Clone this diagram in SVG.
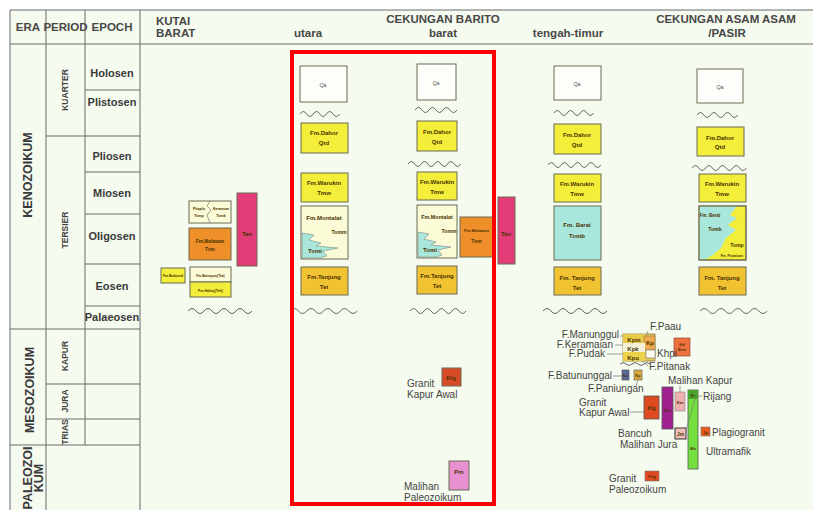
<svg xmlns="http://www.w3.org/2000/svg" width="813" height="510" viewBox="0 0 813 510">
<style>
.ln{stroke:#6a6a6a;stroke-width:1;fill:none}
.hd{font-family:"Liberation Sans",Arial,sans-serif;font-weight:bold;font-size:11.5px;fill:#474747}
.ep{font-family:"Liberation Sans",Arial,sans-serif;font-weight:bold;font-size:11px;fill:#3a3a3a;text-anchor:middle}
.pr{font-family:"Liberation Sans",Arial,sans-serif;font-weight:bold;font-size:8.5px;fill:#444;text-anchor:middle}
.er{font-family:"Liberation Sans",Arial,sans-serif;font-weight:bold;font-size:12.5px;fill:#3a3a3a;text-anchor:middle}
.bx{stroke:#6b6b55;stroke-width:1}
.t{font-family:"Liberation Sans",Arial,sans-serif;font-weight:bold;font-size:6px;fill:#4a3300;text-anchor:middle}
.q{font-family:"Liberation Sans",Arial,sans-serif;font-size:6px;fill:#555;text-anchor:middle}
.lb{font-family:"Liberation Sans",Arial,sans-serif;font-size:10px;fill:#444}
.wv{stroke:#666;stroke-width:1;fill:none}
.y{fill:#f3ee3a}
.o{fill:#f1c232}
.c{fill:#fbfbd8}
.cy{fill:#a9e6dc}
.or{fill:#ee8f2a}
.pk{fill:#e23d78}
.w{fill:#fdfdfa}
.ll{stroke:#777;stroke-width:0.7;fill:none}
</style>
<rect x="0" y="0" width="813" height="510" fill="#ffffff"/>
<rect x="10" y="10" width="803" height="500" fill="#f6fbef"/>

<g id="table">
  <line class="ln" x1="10" y1="10" x2="813" y2="10"/>
  <line class="ln" x1="10" y1="44" x2="813" y2="44"/>
  <line class="ln" x1="10" y1="10" x2="10" y2="510"/>
  <line class="ln" x1="46" y1="10" x2="46" y2="510"/>
  <line class="ln" x1="85" y1="10" x2="85" y2="445"/>
  <line class="ln" x1="140" y1="10" x2="140" y2="510"/>
  <line class="ln" x1="85" y1="90" x2="140" y2="90"/>
  <line class="ln" x1="46" y1="136" x2="140" y2="136"/>
  <line class="ln" x1="85" y1="172" x2="140" y2="172"/>
  <line class="ln" x1="85" y1="214" x2="140" y2="214"/>
  <line class="ln" x1="85" y1="264" x2="140" y2="264"/>
  <line class="ln" x1="85" y1="306" x2="140" y2="306"/>
  <line class="ln" x1="10" y1="329" x2="140" y2="329"/>
  <line class="ln" x1="46" y1="384" x2="140" y2="384"/>
  <line class="ln" x1="46" y1="419" x2="140" y2="419"/>
  <line class="ln" x1="10" y1="445" x2="140" y2="445"/>

  <text class="hd" x="28" y="31" text-anchor="middle" font-size="10">ERA</text>
  <text class="hd" x="65.5" y="31" text-anchor="middle" font-size="8">PERIOD</text>
  <text class="hd" x="112" y="31" text-anchor="middle" font-size="10">EPOCH</text>
  <text class="hd" x="156" y="25">KUTAI</text>
  <text class="hd" x="156" y="37">BARAT</text>
  <text class="hd" x="308" y="37" text-anchor="middle" font-size="11">utara</text>
  <text class="hd" x="443" y="23" text-anchor="middle">CEKUNGAN BARITO</text>
  <text class="hd" x="443" y="37" text-anchor="middle" font-size="11">barat</text>
  <text class="hd" x="568" y="37" text-anchor="middle" font-size="11">tengah-timur</text>
  <text class="hd" x="726" y="23" text-anchor="middle">CEKUNGAN ASAM ASAM</text>
  <text class="hd" x="727" y="37" text-anchor="middle">/PASIR</text>

  <text class="ep" x="112" y="77">Holosen</text>
  <text class="ep" x="112" y="106">Plistosen</text>
  <text class="ep" x="112" y="160">Pliosen</text>
  <text class="ep" x="112" y="197">Miosen</text>
  <text class="ep" x="112" y="240">Oligosen</text>
  <text class="ep" x="112" y="290">Eosen</text>
  <text class="ep" x="112" y="321" font-size="8.5">Palaeosen</text>

  <text class="pr" transform="translate(68,90) rotate(-90)">KUARTER</text>
  <text class="pr" transform="translate(68,230) rotate(-90)">TERSIER</text>
  <text class="pr" transform="translate(68,356) rotate(-90)" font-size="7">KAPUR</text>
  <text class="pr" transform="translate(68,401) rotate(-90)" font-size="7">JURA</text>
  <text class="pr" transform="translate(68,432) rotate(-90)" font-size="6.5">TRIAS</text>

  <text class="er" transform="translate(32,175) rotate(-90)">KENOZOIKUM</text>
  <text class="er" transform="translate(34,390) rotate(-90)" font-size="12">MESOZOIKUM</text>
  <text class="er" transform="translate(32,478) rotate(-90)" font-size="10.5">PALEOZOI</text>
  <text class="er" transform="translate(43,478) rotate(-90)" font-size="10.5">KUM</text>
</g>

<g id="kutai-barat">
  <rect class="bx c" x="189" y="201" width="42" height="22"/>
  <path class="ll" d="M210 201 l-3 5 l4 4 l-4 5 l3 8"/>
  <text class="t" transform="translate(199,210) scale(0.6)">Pitapfu</text>
  <text class="t" transform="translate(199,217) scale(0.6)">Tomp</text>
  <text class="t" transform="translate(221,210) scale(0.55)">Karamuan</text>
  <text class="t" transform="translate(221,217) scale(0.6)">Tomk</text>
  <rect class="bx or" x="189" y="228" width="42" height="32"/>
  <text class="t" transform="translate(210,243) scale(0.8)">Fm.Malawan</text>
  <text class="t" transform="translate(210,251) scale(0.8)">Tom</text>
  <rect class="bx pk" x="237" y="193" width="20" height="73"/>
  <text class="t" x="247" y="236" fill="#5a1030">Tan</text>
  <rect class="bx y" x="161" y="268" width="24" height="15"/>
  <text class="t" transform="translate(173,277) scale(0.55)">Fm.Bedoned</text>
  <rect class="bx c" x="190" y="267" width="41" height="15"/>
  <text class="t" transform="translate(210.5,276.5) scale(0.55)">Fm.Batuayau(Tea)</text>
  <rect class="bx y" x="190" y="282" width="41" height="15"/>
  <text class="t" transform="translate(210.5,291.5) scale(0.6)">Fm.Haloq(Teh)</text>
  <path class="wv" d="M188 311 q4 -5 8 0 t8 0 t8 0 t8 0 t8 0 t8 0 t8 0 t8 0"/>
</g>

<g id="barito-utara">
  <rect class="bx w" x="300" y="66" width="47" height="36"/>
  <text class="q" transform="translate(323,87) scale(0.9)">Qa</text>
  <path class="wv" d="M300 114 q3.3 -5 6.6 0 t6.6 0 t6.6 0 t6.6 0 t6.6 0 t6.6 0"/>
  <rect class="bx y" x="301" y="123" width="47" height="30"/>
  <text class="t" x="324" y="135">Fm.Dahor</text>
  <text class="t" x="324" y="145">Qtd</text>
  <rect class="bx y" x="301" y="173" width="47" height="29"/>
  <text class="t" x="324" y="185">Fm.Warukin</text>
  <text class="t" x="324" y="195">Tmw</text>
  <rect class="bx c" x="301" y="206" width="47" height="53"/>
  <polygon class="cy" points="302,233 314,235 309,240 321,243 316,246 338,248 323,251 327,256 320,258 302,258" stroke="#7a8a80" stroke-width="0.6"/>
  <text class="t" x="324" y="220" font-size="6.5">Fm.Montalat</text>
  <text class="t" transform="translate(339,234) scale(0.85)">Tomm</text>
  <text class="t" x="315" y="253" font-size="9" fill="#2c3a50">Tomi</text>
  <rect class="bx o" x="301" y="267" width="47" height="28"/>
  <text class="t" x="324" y="279">Fm.Tanjung</text>
  <text class="t" x="324" y="289">Tet</text>
  <path class="wv" d="M290 311 q4.2 -5 8.4 0 t8.4 0 t8.4 0 t8.4 0 t8.4 0 t8.4 0 t8.4 0 t8.4 0"/>
</g>

<g id="barito-barat">
  <rect class="bx w" x="417" y="64" width="39" height="36"/>
  <text class="q" transform="translate(436,85) scale(0.9)">Qa</text>
  <path class="wv" d="M415 110 q3.5 -5 7 0 t7 0 t7 0 t7 0 t7 0 t7 0"/>
  <rect class="bx y" x="417" y="121" width="40" height="30"/>
  <text class="t" x="437" y="134">Fm.Dahor</text>
  <text class="t" x="437" y="144">Qtd</text>
  <path class="wv" d="M408 164 q3.3 -5 6.6 0 t6.6 0 t6.6 0 t6.6 0 t6.6 0 t6.6 0 t6.6 0 t6.6 0"/>
  <rect class="bx y" x="417" y="172" width="40" height="28"/>
  <text class="t" x="437" y="184">Fm.Warukin</text>
  <text class="t" x="437" y="194">Tmw</text>
  <rect class="bx c" x="417" y="205" width="40" height="53"/>
  <polygon class="cy" points="418,232 429,234 424,239 436,242 431,245 451,247 438,250 442,255 436,257 418,257" stroke="#7a8a80" stroke-width="0.6"/>
  <text class="t" transform="translate(437,219) scale(0.9)">Fm.Montalat</text>
  <text class="t" transform="translate(449,233) scale(0.85)">Tomm</text>
  <text class="t" x="430" y="252" font-size="9" fill="#2c3a50">Tomi</text>
  <rect class="bx o" x="417" y="266" width="40" height="28"/>
  <text class="t" x="437" y="278">Fm.Tanjung</text>
  <text class="t" x="437" y="288">Tet</text>
  <path class="wv" d="M410 311 q3.5 -5 7 0 t7 0 t7 0 t7 0 t7 0 t7 0 t7 0 t7 0"/>

  <rect class="bx or" x="460" y="217" width="33" height="40"/>
  <text class="t" transform="translate(476.5,232) scale(0.7)">Fm.Malawan</text>
  <text class="t" transform="translate(476.5,243) scale(0.85)">Tom</text>

  <g id="klg-barat">
    <rect class="bx" x="442" y="368" width="19" height="18" fill="#d94a28"/>
    <text class="t" x="451" y="380" fill="#5a1000">Klg</text>
    <text class="lb" x="407" y="387">Granit</text>
    <text class="lb" x="407" y="398">Kapur Awal</text>
  </g>
  <g id="pm-barat">
    <rect class="bx" x="449" y="461" width="20" height="29" fill="#e890d0"/>
    <text class="t" x="459" y="474" font-size="7" fill="#5a1040">Pm</text>
    <text class="lb" x="404" y="490">Malihan</text>
    <text class="lb" x="404" y="501">Paleozoikum</text>
  </g>
</g>

<g id="tan-barito">
  <rect class="bx pk" x="498" y="197" width="17" height="67"/>
  <text class="t" x="506" y="236" font-size="8" fill="#5a1030" font-weight="normal">Tan</text>
</g>

<g id="tengah-timur">
  <rect class="bx w" x="554" y="66" width="47" height="34"/>
  <text class="q" transform="translate(577,86) scale(0.9)">Qa</text>
  <path class="wv" d="M554 113 q3.3 -5 6.6 0 t6.6 0 t6.6 0 t6.6 0 t6.6 0 t6.6 0"/>
  <rect class="bx y" x="554" y="124" width="47" height="30"/>
  <text class="t" x="577" y="137">Fm.Dahor</text>
  <text class="t" x="577" y="147">Qtd</text>
  <path class="wv" d="M548 165 q3.3 -5 6.6 0 t6.6 0 t6.6 0 t6.6 0 t6.6 0 t6.6 0 t6.6 0 t6.6 0"/>
  <rect class="bx y" x="554" y="174" width="47" height="28"/>
  <text class="t" x="577" y="186">Fm.Warukin</text>
  <text class="t" x="577" y="196">Tmw</text>
  <rect class="bx cy" x="554" y="206" width="47" height="54"/>
  <text class="t" x="577" y="227" font-size="7">Fm. Barai</text>
  <text class="t" x="577" y="238">Tomb</text>
  <rect class="bx o" x="554" y="267" width="47" height="28"/>
  <text class="t" x="577" y="280" font-size="6.5">Fm. Tanjung</text>
  <text class="t" x="577" y="290">Tet</text>
  <path class="wv" d="M543 311 q4 -5 8 0 t8 0 t8 0 t8 0 t8 0 t8 0 t8 0 t8 0"/>
</g>

<g id="asam-asam">
  <rect class="bx w" x="697" y="69" width="46" height="34"/>
  <text class="q" transform="translate(720,89) scale(0.9)">Qa</text>
  <path class="wv" d="M697 115 q3.4 -5 6.8 0 t6.8 0 t6.8 0 t6.8 0 t6.8 0 t6.8 0"/>
  <rect class="bx y" x="697" y="127" width="47" height="29"/>
  <text class="t" x="720" y="140" font-size="6.5">Fm.Dahor</text>
  <text class="t" x="720" y="149">Qtd</text>
  <path class="wv" d="M692 168 q3.4 -5 6.8 0 t6.8 0 t6.8 0 t6.8 0 t6.8 0 t6.8 0 t6.8 0 t6.8 0"/>
  <rect class="bx y" x="699" y="174" width="47" height="28"/>
  <text class="t" x="722" y="186">Fm.Warukin</text>
  <text class="t" x="722" y="196">Tmw</text>
  <rect class="bx" x="699" y="206" width="47" height="54" fill="#f3ee3a"/>
  <polygon class="cy" points="699.5,206.5 737,206.5 730,215 737,218 728,225 736,230 726,238 721,248 713,255 705,259.5 699.5,259.5"/>
  <rect x="699" y="206" width="47" height="54" fill="none" stroke="#6b6b55"/>
  <text class="t" transform="translate(710,217) scale(0.75)">Fm. Berai</text>
  <text class="t" transform="translate(715,231) scale(0.85)">Tomb</text>
  <text class="t" transform="translate(737,247) scale(0.85)">Tomp</text>
  <text class="t" transform="translate(732,257) scale(0.55)">Fm. Pamaluan</text>
  <rect class="bx o" x="699" y="267" width="47" height="28"/>
  <text class="t" x="722" y="280" font-size="6.5">Fm. Tanjung</text>
  <text class="t" x="722" y="290">Tet</text>
  <path class="wv" d="M700 311 q4.2 -5 8.4 0 t8.4 0 t8.4 0 t8.4 0 t8.4 0 t8.4 0 t8.4 0 t8.4 0"/>
</g>

<g id="pre-tersier">
  <g id="kal-box">
    <rect x="674" y="338" width="16" height="18" fill="#f07040" stroke="#8a4a30" stroke-width="0.7"/>
    <text class="t" transform="translate(682,346) scale(0.6)" fill="#5a2010">Kal</text>
    <text class="t" transform="translate(682,351) scale(0.6)" fill="#5a2010">Bsm</text>
  </g>
  <g id="kp-cluster">
    <rect x="623" y="334" width="32" height="27" fill="#e8c85a" stroke="#8a7a40" stroke-width="0.8"/>
    <rect x="623" y="334" width="24" height="9" fill="#e9c94a"/>
    <rect x="644" y="336" width="11" height="14" fill="#f0a850" stroke="#8a7a40" stroke-width="0.6"/>
    <rect x="623" y="343" width="22" height="9" fill="#f4f0d8"/>
    <rect x="623" y="352" width="22" height="9" fill="#ecd24a"/>
    <text class="t" x="634" y="342" font-size="7" fill="#5a4a20" font-weight="normal">Kpm</text>
    <text class="t" x="650" y="345" fill="#5a4a20" font-weight="normal">Kp</text>
    <text class="t" x="633" y="351" font-size="7" fill="#5a4a20" font-weight="normal">Kpk</text>
    <text class="t" x="633" y="360" font-size="7" fill="#5a4a20" font-weight="normal">Kpu</text>
    <rect x="646" y="350" width="9" height="8" fill="#fbfbf0" stroke="#777" stroke-width="0.6"/>
    <path class="wv" d="M620 364 q3 -3 6 0 t6 0 t6 0 t6 0 t6 0"/>
  </g>
  <text class="lb" x="650" y="330">F.Paau</text>
  <text class="lb" x="619" y="338" text-anchor="end" font-size="8">F.Manunggul</text>
  <text class="lb" x="613" y="347.5" text-anchor="end" font-size="8">F.Keramaian</text>
  <text class="lb" x="605" y="357" text-anchor="end" font-size="8">F.Pudak</text>
  <text class="lb" x="657" y="357" font-size="9">Khpi</text>
  <text class="lb" x="649" y="370">F.Pitanak</text>
  <path class="ll" d="M620 336 H623 M615 345 H623 M607 354 H623 M648 331 L646 336 M648 366 L642 361"/>

  <g id="kb-box">
    <rect x="622" y="370" width="7" height="10" fill="#5a6a9a" stroke="#444" stroke-width="0.6"/>
    <text class="t" transform="translate(625.5,377) scale(0.6)" fill="#ddd">Kb</text>
    <text class="lb" x="612" y="379" text-anchor="end">F.Batununggal</text>
    <path class="ll" d="M613 376 H622"/>
  </g>
  <g id="kpn-box">
    <rect x="634" y="370" width="8" height="10" fill="#d8a840" stroke="#555" stroke-width="0.6"/>
    <text class="t" transform="translate(638,377) scale(0.6)">Kp</text>
    <text class="lb" x="588" y="392">F.Paniungan</text>
    <path class="ll" d="M638 380 L636 386"/>
  </g>

  <text class="lb" x="668" y="384">Malihan Kapur</text>
  <text class="lb" x="703" y="400">Rijang</text>
  <text class="lb" x="579" y="406">Granit</text>
  <text class="lb" x="579" y="416">Kapur Awal</text>
  <path class="ll" d="M630 412 H644"/>

  <g id="klg-tt">
    <rect x="644" y="396" width="15" height="23" fill="#e04a20" stroke="#555" stroke-width="0.8"/>
    <text class="t" transform="translate(651.5,410) scale(0.85)" fill="#5a1000">Klg</text>
  </g>
  <g id="kbc-tt">
    <rect x="662" y="387" width="11" height="42" fill="#a02090" stroke="#555" stroke-width="0.8"/>
    <text class="t" transform="translate(667.5,412) scale(0.6)" fill="#300030">Kbc</text>
  </g>
  <g id="km-tt">
    <rect x="675" y="392" width="10" height="19" fill="#f0b0b0" stroke="#888" stroke-width="0.6"/>
    <text class="t" transform="translate(680,404) scale(0.7)" fill="#5a2010">Km</text>
    <path class="ll" d="M680 386 V392"/>
  </g>
  <g id="jm-tt">
    <rect x="675" y="428" width="11" height="11" fill="#f0c0b8" stroke="#333" stroke-width="1"/>
    <text class="t" transform="translate(680.5,436) scale(0.8)" fill="#333">Jm</text>
  </g>
  <g id="mu-tt">
    <rect x="688" y="390" width="10" height="79" fill="#74e040" stroke="#555" stroke-width="0.8"/>
    <rect x="688" y="390" width="10" height="9" fill="#4aa030"/>
    <text class="t" transform="translate(693,397) scale(0.65)" fill="#1a3a10">Kr</text>
    <text class="t" transform="translate(693,450) scale(0.7)" fill="#1a3a10">Mu</text>
    <path class="ll" d="M695 399 L686 430"/>
    <path class="ll" d="M698 396 H702"/>
  </g>
  <g id="plg-tt">
    <rect x="701" y="427" width="9" height="9" fill="#e85a20" stroke="#777" stroke-width="0.6"/>
    <text class="t" transform="translate(705.5,433.5) scale(0.7)" fill="#5a1000">Jp</text>
    <text class="lb" x="712" y="436">Plagiogranit</text>
  </g>
  <text class="lb" x="618" y="437">Bancuh</text>
  <text class="lb" x="620" y="448">Malihan Jura</text>
  <text class="lb" x="706" y="455">Ultramafik</text>
  <g id="pzg-tt">
    <rect x="645" y="471" width="14" height="10" fill="#e04a20" stroke="#777" stroke-width="0.6"/>
    <text class="t" transform="translate(652,478) scale(0.7)" fill="#5a1000">Pzg</text>
    <text class="lb" x="609" y="482">Granit</text>
    <text class="lb" x="609" y="493">Paleozoikum</text>
  </g>
</g>

<rect id="highlight" x="292" y="52" width="202" height="452" fill="none" stroke="#ff0000" stroke-width="4"/>
</svg>
